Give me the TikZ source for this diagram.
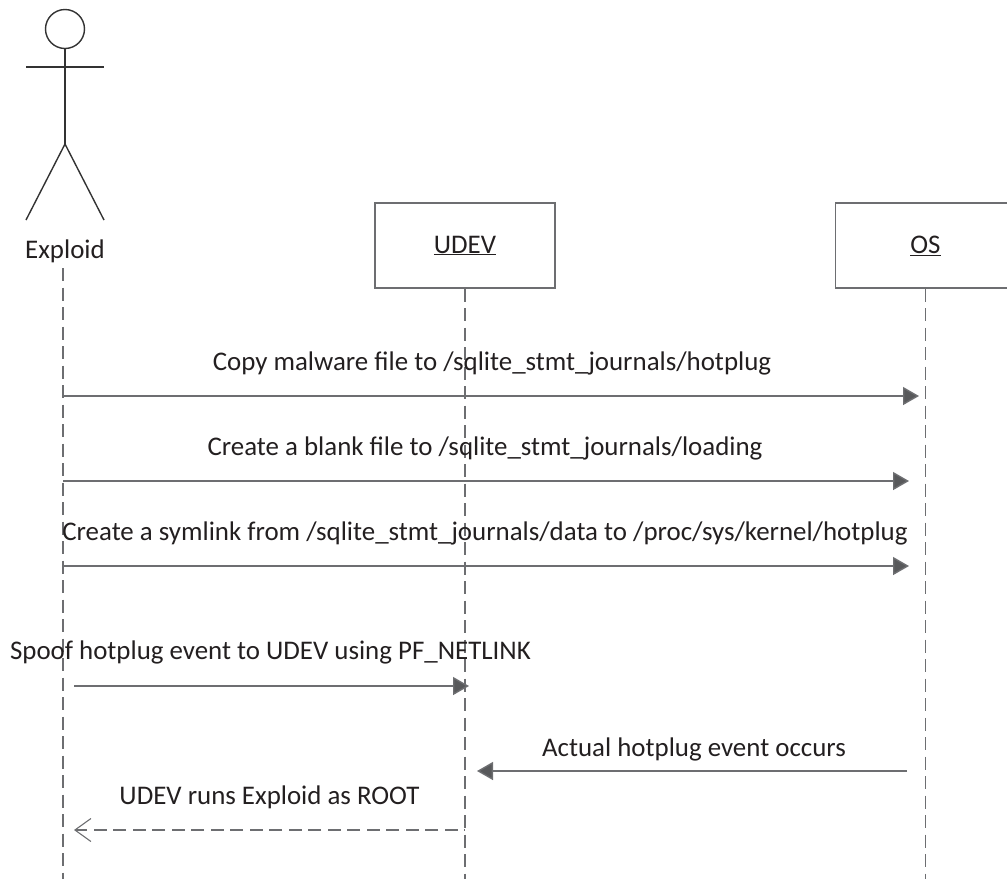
\documentclass[tikz,border=0pt]{standalone}
\usepackage{fontspec}
\setmainfont{Carlito}
\usetikzlibrary{arrows.meta, positioning}
\definecolor{inkline}{HTML}{333333}
\definecolor{msgline}{HTML}{6D6E71}
\definecolor{msghead}{HTML}{58595B}
\definecolor{inktext}{HTML}{231F20}

\begin{document}
\begin{tikzpicture}[
    x=1pt, y=-1pt,
    every node/.style={text=inktext, font=\fontsize{26.9}{30}\selectfont, inner sep=0pt},
    object/.style={draw=msgline, line width=1.2pt, minimum width=180pt, minimum height=85pt},
    figure/.style={draw=inkline, line width=1.4pt},
    lifeline/.style={draw=msgline, line width=1.1pt, dash pattern=on 13pt off 6.5pt},
    message/.style={draw=msgline, line width=1.4pt, -{Triangle[length=16pt,width=18pt,fill=msghead]}},
    reply/.style={draw=msgline, line width=1.1pt, dash pattern=on 13pt off 6.5pt, dash phase=12pt, -{Straight Barb[length=16pt,width=23pt,line width=1.1pt]}},
    label/.style={anchor=base}
]
    \useasboundingbox (0,0) rectangle (1007,879);

    % Actor
    \node[figure, circle, minimum size=39pt] (head) at (65,29) {};
    \coordinate (crotch) at (65,144);
    \coordinate (armleft) at (26,67);
    \coordinate (armright) at (104,67);
    \coordinate (footleft) at (26,220);
    \coordinate (footright) at (104,220);
    \draw[figure] (head.south) -- (crotch);
    \draw[figure] (armleft) -- (armright);
    \draw[figure] (footleft) -- (crotch) -- (footright);
    \node[label] (exploid) at (65,258) {Exploid};

    % Objects
    \node[object] (udev) at (465,245.5) {\underline{UDEV}};
    \node[object] (os) at (925.5,245.5) {\underline{OS}};

    % Lifelines
    \coordinate (exploidtop) at (63,268);
    \coordinate (exploidend) at (63,879);
    \coordinate (udevend) at (465,879);
    \coordinate (osend) at (925.5,879);
    \draw[lifeline] (exploidtop) -- (exploidend);
    \draw[lifeline] (udev.south) -- (udevend);
    \draw[lifeline] (os.south) -- (osend);

    % Message ends
    \coordinate (copyfrom) at (63,396);
    \coordinate (copyto) at (919,396);
    \coordinate (blankfrom) at (63,481);
    \coordinate (blankto) at (909,481);
    \coordinate (linkfrom) at (63,566);
    \coordinate (linkto) at (909,566);
    \coordinate (spooffrom) at (74,686);
    \coordinate (spoofto) at (469,686);
    \coordinate (eventfrom) at (907,771);
    \coordinate (eventto) at (477,771);
    \coordinate (rootfrom) at (465,830);
    \coordinate (rootto) at (74,830);

    % Messages
    \draw[message] (copyfrom) -- (copyto);
    \draw[message] (blankfrom) -- (blankto);
    \draw[message] (linkfrom) -- (linkto);
    \draw[message] (spooffrom) -- (spoofto);
    \draw[message] (eventfrom) -- (eventto);
    \draw[reply] (rootfrom) -- (rootto);

    % Labels
    \node[label] (copytext) at (492,370) {Copy malware file to /sqlite\_stmt\_journals/hotplug};
    \node[label] (blanktext) at (485,455) {Create a blank file to /sqlite\_stmt\_journals/loading};
    \node[label] (linktext) at (485,540) {Create a symlink from /sqlite\_stmt\_journals/data to /proc/sys/kernel/hotplug};
    \node[label] (spooftext) at (270.5,659) {Spoof hotplug event to UDEV using PF\_NETLINK};
    \node[label] (eventtext) at (694,756) {Actual hotplug event occurs};
    \node[label] (roottext) at (269.5,804) {UDEV runs Exploid as ROOT};
\end{tikzpicture}
\end{document}
